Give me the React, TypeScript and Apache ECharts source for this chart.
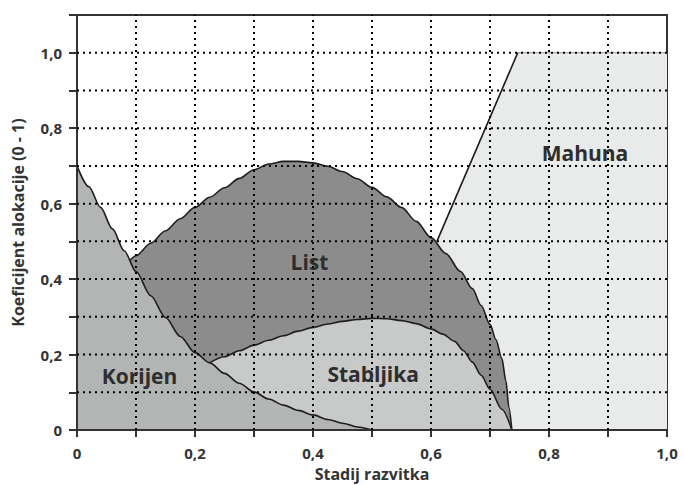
import React, { useEffect, useRef } from "react";
import * as echarts from "echarts";

// Boundary curves (x = developmental stage, y = allocation coefficient)
const rootCurve: [number, number][] = [
  [0, 0.7], [0.02, 0.645], [0.04, 0.59], [0.06, 0.533], [0.08, 0.475], [0.1, 0.42],
  [0.125, 0.356], [0.15, 0.298], [0.175, 0.248], [0.2, 0.205], [0.225, 0.178],
  [0.25, 0.15], [0.275, 0.124], [0.3, 0.101], [0.325, 0.082], [0.35, 0.066],
  [0.375, 0.052], [0.4, 0.04], [0.425, 0.028], [0.45, 0.018], [0.475, 0.008], [0.5, 0],
];
const stemTop: [number, number][] = [
  [0.225, 0.178], [0.25, 0.194], [0.275, 0.21], [0.3, 0.225], [0.325, 0.238],
  [0.35, 0.25], [0.375, 0.262], [0.4, 0.272], [0.425, 0.281], [0.45, 0.288],
  [0.475, 0.293], [0.5, 0.296], [0.525, 0.295], [0.55, 0.29], [0.575, 0.282],
  [0.6, 0.268], [0.62, 0.254], [0.64, 0.235], [0.655, 0.21], [0.67, 0.18],
  [0.685, 0.145], [0.7, 0.108], [0.72, 0.055], [0.737, 0],
];
const leafTop: [number, number][] = [
  [0.09, 0.45], [0.1, 0.462], [0.125, 0.495], [0.15, 0.528], [0.175, 0.56], [0.2, 0.59],
  [0.225, 0.617], [0.25, 0.642], [0.275, 0.667], [0.3, 0.69], [0.325, 0.705],
  [0.35, 0.712], [0.375, 0.712], [0.4, 0.708], [0.425, 0.699], [0.45, 0.685],
  [0.475, 0.666], [0.5, 0.643], [0.525, 0.618], [0.55, 0.59], [0.575, 0.553],
  [0.6, 0.51], [0.625, 0.468], [0.65, 0.42], [0.67, 0.375], [0.685, 0.33], [0.7, 0.28],
  [0.71, 0.24], [0.72, 0.19], [0.727, 0.13], [0.732, 0.06], [0.737, 0],
];
const podBoundary: [number, number][] = [[0.61, 0.5], [0.747, 1.0], [1.0, 1.0]];

const regionLabels: { name: string; at: [number, number] }[] = [
  { name: "Korijen", at: [0.106, 0.143] },
  { name: "List", at: [0.394, 0.444] },
  { name: "Stabljika", at: [0.502, 0.148] },
  { name: "Mahuna", at: [0.861, 0.735] },
];

const xRange = { min: 0, max: 1.0, step: 0.1 };
const yRange = { min: 0, max: 1.1, step: 0.1 };
const gridXs = [0.1, 0.2, 0.3, 0.4, 0.5, 0.6, 0.7, 0.8, 0.9];
const gridYs = [0.1, 0.2, 0.3, 0.4, 0.5, 0.6, 0.7, 0.8, 0.9, 1.0];

const FONT = "'Open Sans', 'DejaVu Sans', sans-serif";
const TEXT = "#333333";

const fmt = (v: number) => {
  const k = Math.round(v * 10);
  if (k % 2 !== 0) return "";
  if (k === 0) return "0";
  return (k / 10).toFixed(1).replace(".", ",");
};

export default function App() {
  const ref = useRef<HTMLDivElement>(null);
  useEffect(() => {
    if (!ref.current) return;
    const chart = echarts.init(ref.current, undefined, { renderer: "svg" });
    const edge = { color: "#1e1e1e", width: 1.6 };
    const areaSeries = (name: string, data: [number, number][], fill: string, line: any, smooth: number | boolean) => ({
      type: "line",
      name,
      data,
      symbol: "none",
      smooth,
      smoothMonotone: "x",
      z: 2,
      lineStyle: line,
      areaStyle: { color: fill, opacity: 1 },
      silent: true,
    });
    const dotted = { color: "#000000", width: 2, type: [2, 4] };
    const gridSeries = [
      ...gridXs.map((x) => ({
        type: "line",
        data: [[x, yRange.min], [x, yRange.max]],
        symbol: "none",
        silent: true,
        z: 30,
        zlevel: 1,
        lineStyle: dotted,
      })),
      ...gridYs.map((y) => ({
        type: "line",
        data: [[xRange.min, y], [xRange.max, y]],
        symbol: "none",
        silent: true,
        z: 30,
        zlevel: 1,
        lineStyle: dotted,
      })),
    ];
    chart.setOption({
      animation: false,
      backgroundColor: "#ffffff",
      grid: {
        left: 77,
        right: 17,
        top: 15,
        bottom: 55,
        outerBoundsMode: "none",
        containLabel: false,
        show: true,
        borderColor: "#333333",
        borderWidth: 2,
        backgroundColor: "transparent",
        z: 0,
      },
      xAxis: {
        type: "value",
        min: xRange.min,
        max: xRange.max,
        interval: xRange.step,
        z: 8,
        name: "Stadij razvitka",
        nameLocation: "middle",
        nameGap: 35,
        nameTextStyle: { fontFamily: FONT, fontWeight: "bold", fontSize: 16, lineHeight: 18, color: TEXT },
        axisLine: { lineStyle: { color: "#333333", width: 2 } },
        axisTick: { show: true, length: 7, lineStyle: { color: "#333333", width: 2 } },
        axisLabel: {
          formatter: fmt,
          margin: 15,
          fontFamily: FONT,
          fontWeight: "bold",
          fontSize: 15,
          color: TEXT,
        },
        splitLine: { show: false },
      },
      yAxis: {
        type: "value",
        min: yRange.min,
        max: yRange.max,
        interval: yRange.step,
        z: 8,
        name: "Koeficijent alokacije (0 - 1)",
        nameLocation: "middle",
        nameGap: 51,
        nameTextStyle: { fontFamily: FONT, fontWeight: "bold", fontSize: 16, color: TEXT },
        axisLine: { show: true, lineStyle: { color: "#333333", width: 2 } },
        axisTick: { show: true, length: 8, lineStyle: { color: "#333333", width: 2 } },
        axisLabel: {
          formatter: fmt,
          margin: 15,
          fontFamily: FONT,
          fontWeight: "bold",
          fontSize: 15,
          color: TEXT,
        },
        splitLine: { show: false },
      },
      series: [
        areaSeries("Mahuna", podBoundary, "#e9eaea", { color: "#9a9a9a", width: 1 }, false),
        {
          type: "line",
          name: "MahunaEdge",
          data: podBoundary.slice(0, 2),
          symbol: "none",
          z: 2,
          lineStyle: edge,
          silent: true,
        },
        areaSeries("List", leafTop, "#8c8c8c", edge, 0.3),
        areaSeries("Stabljika", stemTop, "#c8c9c9", edge, 0.3),
        areaSeries("Korijen", rootCurve, "#b3b4b4", edge, 0.3),
        ...gridSeries,
      ],
    });

    // Region names, positioned through the chart's own axes
    const px = (p: [number, number]) => chart.convertToPixel({ gridIndex: 0 }, p) as number[];
    const texts = regionLabels.map((l) => {
      const p = px(l.at);
      return {
        type: "text",
        z: 110,
        zlevel: 2,
        silent: true,
        x: p[0],
        y: p[1],
        style: {
          text: l.name,
          fontFamily: FONT,
          fontWeight: "bold",
          fontSize: 21,
          fill: "#2e2e2e",
          align: "center",
          verticalAlign: "middle",
        },
      };
    });
    chart.setOption({ graphic: texts });
    return () => chart.dispose();
  }, []);
  return (
    <div
      ref={ref}
      style={{ position: "absolute", left: 0, top: 0, width: 684, height: 485 }}
    />
  );
}
